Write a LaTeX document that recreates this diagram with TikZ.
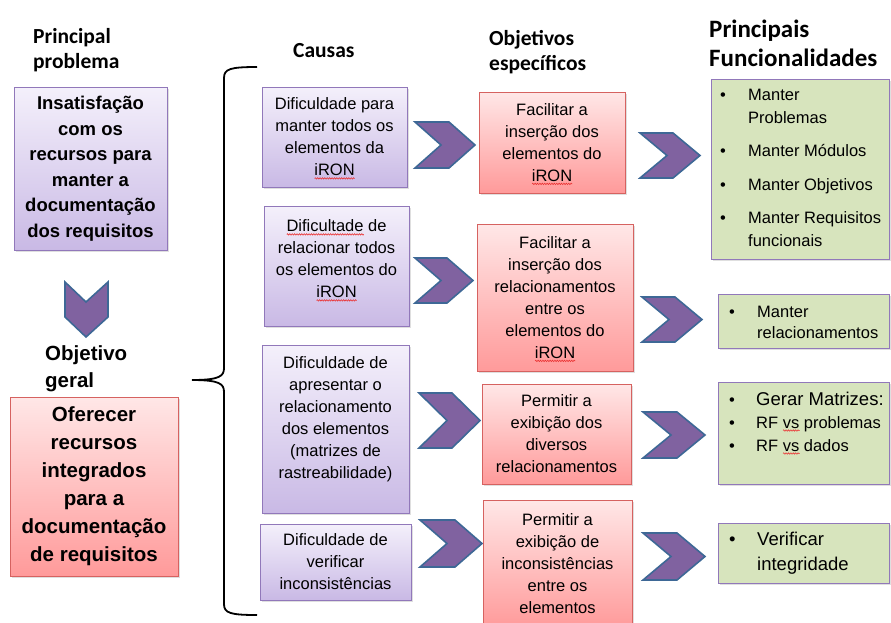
\documentclass[tikz,border=0pt]{standalone}
\usepackage{fontspec}
\setmainfont{Liberation Sans}
\newfontfamily\calibri{Carlito}
\usetikzlibrary{shadows,decorations.pathmorphing}

\definecolor{roxoTopo}{RGB}{244,240,251}
\definecolor{roxoBase}{RGB}{201,185,229}
\definecolor{roxoBorda}{RGB}{145,120,186}
\definecolor{verTopo}{RGB}{255,231,231}
\definecolor{verBase}{RGB}{255,154,154}
\definecolor{verBorda}{RGB}{214,98,96}
\definecolor{verde}{RGB}{215,228,189}
\definecolor{seta}{RGB}{128,98,160}
\definecolor{setaBorda}{RGB}{62,104,150}
\definecolor{corretor}{RGB}{235,50,50}

\newsavebox\palavra
\newcommand\errado[1]{\sbox\palavra{#1}\rlap{\smash{\raisebox{-3.5pt}{\tikz\draw[corretor, line width=.6pt, decorate, decoration={zigzag, amplitude=.7pt, segment length=2.4pt}] (0pt,0pt) -- (\wd\palavra,0pt);}}}\usebox\palavra}

\begin{document}
\begin{tikzpicture}[x=1pt,y=-1pt,
    sombra/.style={drop shadow={opacity=.25,shadow xshift=1.5pt,shadow yshift=-1.5pt}},
    texto/.style={inner sep=0pt, align=center, font=\fontsize{16.5}{22}\selectfont},
    causa/.style={texto, draw=roxoBorda, line width=1pt, top color=roxoTopo, bottom color=roxoBase, sombra},
    objetivo/.style={texto, draw=verBorda, line width=1pt, top color=verTopo, bottom color=verBase, sombra},
    func/.style={draw=roxoBorda, line width=1pt, fill=verde, sombra, inner sep=0pt},
    lista/.style={inner sep=0pt, font=\fontsize{16.5}{23}\selectfont},
    chev/.style={draw=setaBorda, fill=seta, line width=1.6pt},
    titulo/.style={inner sep=0pt, align=left, font=\calibri\bfseries\fontsize{21.5}{25}\selectfont},
  ]
        \useasboundingbox (0,0) rectangle (891,622);

        % titulos
        \node[titulo, anchor=west] (tprob) at (33,50) {Principal\\problema};
        \node[titulo, anchor=west] (tcaus) at (293,51) {Causas};
        \node[titulo, anchor=west] (tobj) at (489,52) {Objetivos\\específicos};
        \node[titulo, anchor=west, font=\calibri\bfseries\fontsize{25}{29}\selectfont] (tfunc) at (709,43.5) {Principais\\Funcionalidades};
        \node[anchor=west, align=left, inner sep=0pt, font=\bfseries\fontsize{20.5}{27}\selectfont] (tger) at (45,369) {Objetivo\\geral};

        % problema e objetivo geral
        \node[causa, minimum width=153pt, minimum height=163pt, font=\bfseries\fontsize{18.5}{25.5}\selectfont] (prob) at (90.5,168.5) {Insatisfação\\com os\\recursos para\\manter a\\documentação\\dos requisitos};
        \node[objetivo, minimum width=168pt, minimum height=179pt, font=\bfseries\fontsize{20.5}{28}\selectfont] (geral) at (94,486.5) {Oferecer\\recursos\\integrados\\para a\\documentação\\de requisitos};
        \draw[chev] (65,282) -- (86,302) -- (108,282) -- (108,317) -- (86,337) -- (65,317) -- cycle;

        % chave
        \draw[line width=1.8pt] (257,67) .. controls (230,67) and (224,69) .. (224,78) -- (224,368) .. controls (224,376) and (220,380) .. (192,380);
        \draw[line width=1.8pt] (192,380) .. controls (220,380) and (224,384) .. (224,392) -- (224,604) .. controls (224,613) and (230,615) .. (257,615);

        % causas
        \node[causa, minimum width=145pt, minimum height=100pt] (c1) at (334.5,137) {Dificuldade para\\manter todos os\\elementos da\\\errado{iRON}};
        \node[causa, minimum width=145pt, minimum height=120pt] (c2) at (336.5,266) {};
        \node[texto] (c2t) at (336.5,259) {\errado{Dificultade} de\\relacionar todos\\os elementos do\\\errado{iRON}};
        \node[causa, minimum width=147pt, minimum height=168pt] (c3) at (335.5,429) {};
        \node[texto] (c3t) at (335.5,419.5) {Dificuldade de\\apresentar o\\relacionamento\\dos elementos\\(matrizes de\\rastreabilidade)};
        \node[causa, minimum width=151pt, minimum height=76pt] (c4) at (335.5,562) {Dificuldade de\\verificar\\inconsistências};

        \draw[chev] (415,122) -- (449,122) -- (475,145) -- (449,168) -- (415,168) -- (441,145) -- cycle;
        \draw[chev] (415,258) -- (447,258) -- (473,280.5) -- (447,303) -- (415,303) -- (441,280.5) -- cycle;
        \draw[chev] (419,393) -- (452,393) -- (480,420.5) -- (452,448) -- (419,448) -- (447,420.5) -- cycle;
        \draw[chev] (420,520) -- (455,520) -- (482,543.5) -- (455,567) -- (420,567) -- (447,543.5) -- cycle;

        % objetivos especificos
        \node[objetivo, minimum width=146pt, minimum height=101pt] (o1) at (552,142.5) {Facilitar a\\inserção dos\\elementos do\\\errado{iRON}};
        \node[objetivo, minimum width=156pt, minimum height=147pt] (o2) at (555,297.5) {Facilitar a\\inserção dos\\relacionamentos\\entre os\\elementos do\\\errado{iRON}};
        \node[objetivo, minimum width=149pt, minimum height=100pt] (o3) at (556.5,434) {Permitir a\\exibição dos\\diversos\\relacionamentos};
        \node[objetivo, minimum width=149pt, minimum height=128pt] (o4) at (557.5,564) {Permitir a\\exibição de\\inconsistências\\entre os\\elementos};

        \draw[chev] (640,133) -- (673,133) -- (700,155.5) -- (673,178) -- (640,178) -- (667,155.5) -- cycle;
        \draw[chev] (642,297) -- (675,297) -- (702,319.5) -- (675,342) -- (642,342) -- (669,319.5) -- cycle;
        \draw[chev] (643,412) -- (677,412) -- (705,435) -- (677,458) -- (643,458) -- (671,435) -- cycle;
        \draw[chev] (643,533) -- (677,533) -- (705,556.5) -- (677,580) -- (643,580) -- (671,556.5) -- cycle;

        % funcionalidades
        \node[func, minimum width=178pt, minimum height=180pt] (f1) at (800,169) {};
        \node[func, minimum width=171pt, minimum height=54pt] (f2) at (803.5,321) {};
        \node[func, minimum width=171pt, minimum height=102pt] (f3) at (803.5,433) {};
        \node[func, minimum width=171pt, minimum height=60pt] (f4) at (803.5,553) {};

        \node[lista, anchor=base west] (f1t) at (720,100) {\begin{tabular}[t]{@{}p{28pt}@{}l@{}}\textbullet & Manter\\ & Problemas\\[10.5pt] \textbullet & Manter Módulos\\[10.5pt] \textbullet & Manter Objetivos\\[10.5pt] \textbullet & Manter Requisitos\\ & funcionais\end{tabular}};
        \node[lista, anchor=base west, font=\fontsize{16.5}{21}\selectfont] (f2t) at (729,317) {\begin{tabular}[t]{@{}p{28pt}@{}l@{}}\textbullet & Manter\\ & relacionamentos\end{tabular}};
        \node[lista, anchor=base west] (f3t) at (729,405) {\begin{tabular}[t]{@{}p{27pt}@{}l@{}}\textbullet & {\fontsize{18.5}{23}\selectfont Gerar Matrizes:}\\ \textbullet & RF \errado{vs} problemas\\ \textbullet & RF \errado{vs} dados\end{tabular}};
        \node[lista, anchor=base west, font=\fontsize{18.5}{25}\selectfont] (f4t) at (729,545) {\begin{tabular}[t]{@{}p{28pt}@{}l@{}}\textbullet & Verificar\\ & integridade\end{tabular}};
\end{tikzpicture}
\end{document}
